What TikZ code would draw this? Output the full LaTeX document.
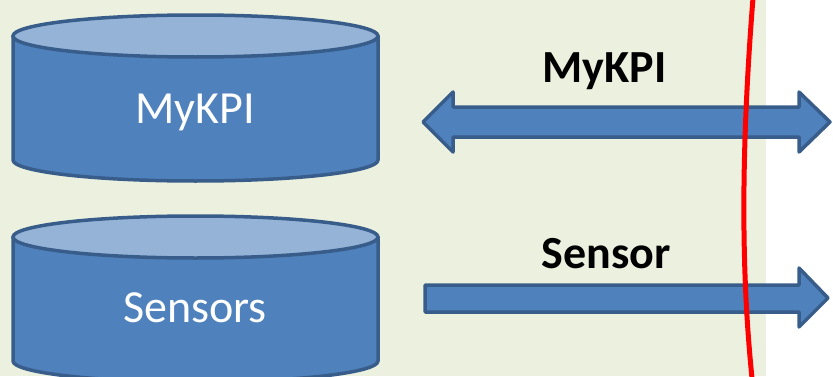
\documentclass[tikz,border=0pt]{standalone}
\usepackage{fontspec}
\setmainfont{Carlito}
\definecolor{bggreen}{HTML}{EBF1DE}
\definecolor{boxfill}{HTML}{4F81BD}
\definecolor{boxline}{HTML}{385D8A}
\definecolor{topfill}{HTML}{95B3D7}
\definecolor{redline}{HTML}{FF0000}
\tikzset{
  shapebody/.style={fill=boxfill, draw=boxline, line width=3.5pt, line join=round},
  shapetop/.style={fill=topfill, draw=boxline, line width=3.5pt},
  dbtext/.style={text=white, font=\fontsize{46}{52}\selectfont, anchor=base, inner sep=0pt},
  lbltext/.style={text=black, font=\fontsize{46}{52}\selectfont\bfseries, anchor=base, inner sep=0pt},
  border/.style={draw=redline, line width=5pt}
}
\begin{document}
\begin{tikzpicture}[x=1pt,y=1pt]
\useasboundingbox (0,0) rectangle (833,376);
\fill[bggreen] (0,0) rectangle (766,376);
% cylinder 1
\draw[shapebody] (13,340) -- (13,216) arc[start angle=180,end angle=360,x radius=182.5pt,y radius=21pt] -- (378,340) -- cycle;
\draw[shapetop] (195.5,340) ellipse [x radius=182.5pt, y radius=21pt];
\node[dbtext] (kpidb) at (195,253) {MyKPI};
% cylinder 2
\draw[shapebody] (13,139) -- (13,15) arc[start angle=180,end angle=360,x radius=182.5pt,y radius=21pt] -- (378,139) -- cycle;
\draw[shapetop] (195.5,139) ellipse [x radius=182.5pt, y radius=21pt];
\node[dbtext] (sensdb) at (195,54) {Sensors};
% double arrow
\draw[shapebody] (423,254) -- (453,284) -- (453,269) -- (799,269) -- (799,284) -- (830,254) -- (799,224) -- (799,239) -- (453,239) -- (453,224) -- cycle;
\node[lbltext] (kpilbl) at (604.5,294) {MyKPI};
% single arrow
\draw[shapebody] (425,91) -- (799,91) -- (799,108) -- (828,78) -- (799,49) -- (799,64) -- (425,64) -- cycle;
\node[lbltext] (senslbl) at (606.5,108) {Sensor};
% red boundary
\draw[border] (753,378) .. controls (741,226) and (741,106) .. (752,-2);
\end{tikzpicture}
\end{document}
